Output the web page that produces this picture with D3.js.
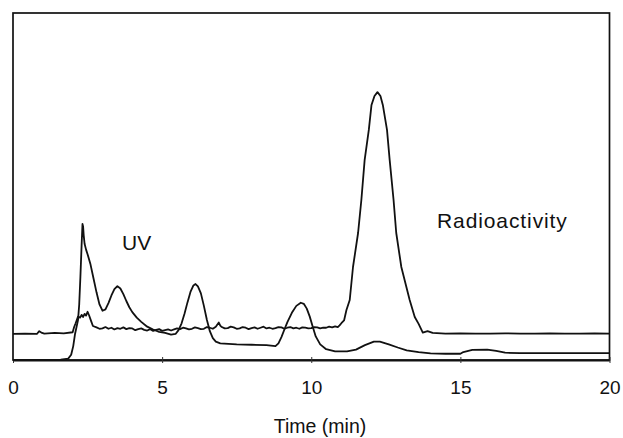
<!DOCTYPE html>
<html>
<head>
<meta charset="utf-8">
<script src="https://cdn.jsdelivr.net/npm/d3@7"></script>
<style>
  html, body { margin: 0; padding: 0; background: #fff; }
  svg { display: block; }
  text { font-family: "Liberation Sans", Arial, sans-serif; fill: #111; }
</style>
</head>
<body>
<svg id="chart" width="623" height="438"></svg>
<script>
// ---- Data ----
const xTicks = [0, 5, 10, 15, 20];
const xTitle = "Time (min)";
const seriesLabels = ["UV", "Radioactivity"];

const uvTime = [0, 1.0, 1.6, 1.85, 1.95, 2.02, 2.08, 2.13, 2.18, 2.22, 2.26, 2.3, 2.33, 2.35, 2.37, 2.4, 2.45, 2.5, 2.6, 2.7, 2.8, 2.9, 3.0, 3.1, 3.2, 3.3, 3.4, 3.5, 3.6, 3.7, 3.8, 3.9, 4.0, 4.15, 4.3, 4.5, 4.7, 4.9, 5.1, 5.3, 5.45, 5.55, 5.65, 5.75, 5.85, 5.95, 6.05, 6.12, 6.2, 6.3, 6.4, 6.5, 6.6, 6.7, 6.8, 6.95, 7.5, 8.0, 8.5, 8.8, 8.9, 9.0, 9.1, 9.2, 9.35, 9.5, 9.65, 9.75, 9.85, 9.95, 10.05, 10.15, 10.3, 10.5, 10.8, 11.2, 11.5, 11.8, 12.1, 12.3, 12.6, 12.9, 13.2, 13.6, 14.0, 14.5, 15.0, 15.1, 15.4, 15.9, 16.2, 16.5, 17.0, 20.0];
const uvSignal = [0, 0, 0.1, 0.4, 1.5, 4, 7.5, 9.5, 11.5, 16, 24, 33, 39.2, 38.5, 36, 33.5, 31.8, 30.5, 27.5, 23.5, 19.5, 16, 14.2, 14.6, 16.4, 18.6, 20.4, 21.3, 20.6, 19, 17, 15.2, 13.8, 12.2, 11, 9.6, 8.8, 8.1, 7.8, 7.3, 7.5, 8.6, 10.5, 13.3, 16.6, 19.6, 21.5, 21.9, 21.2, 19.2, 15.6, 11.6, 8.3, 6.3, 5.3, 4.8, 4.5, 4.4, 4.3, 4.0, 4.8, 6.6, 8.8, 10.9, 13.6, 15.6, 16.5, 16.2, 14.8, 12.5, 9.6, 6.8, 4.5, 3.1, 2.5, 2.5, 3.0, 4.3, 5.3, 5.3, 4.5, 3.6, 2.8, 2.3, 1.9, 1.8, 1.8, 2.3, 2.9, 3.0, 2.6, 2.1, 2.0, 2.0];

const radioTime = [0, 0.4, 0.8, 0.88, 0.95, 1.05, 1.4, 1.7, 2.0, 2.05, 2.1, 2.18, 2.25, 2.3, 2.35, 2.4, 2.45, 2.5, 2.55, 2.62, 2.68, 2.8, 2.9, 3.0, 3.1, 3.2, 3.3, 3.4, 3.5, 3.6, 3.7, 3.8, 3.9, 4.0, 4.1, 4.2, 4.3, 4.4, 4.5, 4.6, 4.7, 4.8, 4.9, 5.0, 5.1, 5.2, 5.3, 5.4, 5.5, 5.6, 5.7, 5.8, 5.9, 6.0, 6.1, 6.2, 6.3, 6.4, 6.5, 6.6, 6.7, 6.8, 6.9, 6.95, 7.0, 7.1, 7.2, 7.3, 7.4, 7.5, 7.6, 7.7, 7.8, 7.9, 8.0, 8.1, 8.2, 8.3, 8.4, 8.5, 8.6, 8.7, 8.8, 8.9, 9.0, 9.1, 9.2, 9.3, 9.4, 9.5, 9.6, 9.7, 9.8, 9.9, 10.0, 10.1, 10.2, 10.3, 10.4, 10.5, 10.6, 10.7, 10.8, 10.89, 10.95, 11.01, 11.1, 11.18, 11.29, 11.4, 11.57, 11.68, 11.79, 11.93, 12.02, 12.12, 12.22, 12.32, 12.4, 12.54, 12.63, 12.76, 12.85, 13.02, 13.3, 13.47, 13.6, 13.74, 13.9, 14.07, 14.5, 15.0, 15.5, 16.0, 16.5, 17.0, 17.5, 18.0, 18.5, 19.0, 19.5, 20.0];
const radioSignal = [7.5, 7.6, 7.5, 8.3, 7.9, 7.6, 7.8, 7.7, 8.0, 9.5, 10.6, 12.5, 12.2, 13.0, 12.4, 13.3, 12.8, 13.9, 12.9, 11.2, 9.8, 9.4, 9.0, 9.1, 9.5, 9.0, 9.3, 8.8, 9.2, 9.0, 9.4, 8.9, 9.2, 9.1, 8.6, 8.9, 9.1, 8.7, 8.5, 8.9, 8.4, 8.7, 8.9, 8.4, 8.6, 8.8, 8.5, 8.8, 9.1, 8.9, 9.3, 9.1, 8.8, 9.0, 9.4, 9.2, 8.9, 9.0, 9.5, 9.3, 9.0, 9.6, 10.8, 9.9, 9.5, 9.1, 9.2, 9.6, 9.4, 9.0, 9.1, 9.5, 9.3, 8.9, 9.2, 9.4, 9.0, 9.3, 9.6, 9.1, 9.3, 9.0, 9.2, 9.5, 9.4, 9.0, 9.3, 9.5, 9.1, 9.3, 9.0, 9.4, 9.3, 9.1, 9.2, 9.5, 9.4, 9.1, 9.3, 9.3, 9.6, 9.4, 9.7, 9.5, 10.0, 10.6, 11.4, 14.4, 17.3, 26.8, 36.6, 46.1, 57.6, 66.3, 73.5, 76.1, 77.2, 76.1, 73.5, 66.3, 57.6, 46.1, 36.6, 26.8, 17.3, 12.4, 10.4, 7.9, 8.3, 7.8, 7.6, 7.7, 7.6, 7.6, 7.7, 7.6, 7.6, 7.7, 7.6, 7.6, 7.7, 7.6];

// ---- Layout ----
const svg = d3.select("#chart");
const plot = { left: 13, right: 609.5, top: 13, bottom: 360 };

const x = d3.scaleLinear().domain([0, 20]).range([plot.left, plot.right]);
const y = d3.scaleLinear().domain([0, 100]).range([plot.bottom, plot.top]);

// frame
svg.append("rect")
  .attr("x", plot.left).attr("y", plot.top)
  .attr("width", plot.right - plot.left).attr("height", plot.bottom - plot.top)
  .attr("fill", "none").attr("stroke", "#111").attr("stroke-width", 1.7);

// x axis
const axis = d3.axisBottom(x).tickValues(xTicks).tickFormat(d3.format("d"))
  .tickSizeInner(3).tickSizeOuter(0).tickPadding(17.5);
const gx = svg.append("g").attr("transform", `translate(0,${plot.bottom})`).call(axis);
gx.select(".domain").attr("stroke", "#111").attr("stroke-width", 1.9);
gx.selectAll(".tick line").attr("stroke", "#333").attr("stroke-width", 1).attr("y1", -3);
gx.selectAll(".tick text").attr("font-size", 19).attr("fill", "#111")
  .attr("font-family", "'Liberation Sans', Arial, sans-serif");

svg.append("text")
  .attr("x", 320).attr("y", 433)
  .attr("text-anchor", "middle").attr("font-size", 19.5)
  .text(xTitle);

// traces
const line = d3.line().x(d => x(d[0])).y(d => y(d[1]));
const uvData = d3.zip(uvTime, uvSignal);
const radioData = d3.zip(radioTime, radioSignal);

svg.append("path").datum(radioData)
  .attr("d", line).attr("fill", "none")
  .attr("stroke", "#111").attr("stroke-width", 1.8).attr("stroke-linejoin", "round");
svg.append("path").datum(uvData)
  .attr("d", line).attr("fill", "none")
  .attr("stroke", "#111").attr("stroke-width", 1.8).attr("stroke-linejoin", "round");

// labels
svg.append("text").attr("x", 122).attr("y", 250)
  .attr("font-size", 21).text(seriesLabels[0]);
svg.append("text").attr("x", 437).attr("y", 228)
  .attr("font-size", 21).attr("letter-spacing", 0.9).text(seriesLabels[1]);
</script>
</body>
</html>
